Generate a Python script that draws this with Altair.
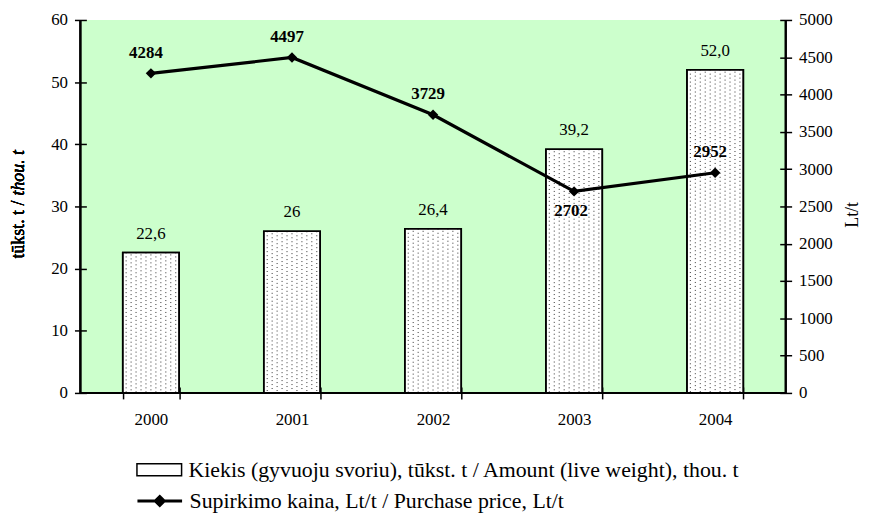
import altair as alt
import pandas as pd

years = ["2000", "2001", "2002", "2003", "2004"]
amount = [22.6, 26.0, 26.4, 39.2, 52.0]
amount_labels = ["22,6", "26", "26,4", "39,2", "52,0"]
price = [4284, 4497, 3729, 2702, 2952]
price_labels = ["4284", "4497", "3729", "2702", "2952"]

bar_name = "Kiekis (gyvuoju svoriu), tūkst. t / Amount (live weight), thou. t"
line_name = "Supirkimo kaina, Lt/t / Purchase price, Lt/t"

df = pd.DataFrame({
    "year": years,
    "amount": amount,
    "amount_label": amount_labels,
    "price": price,
    "price_label": price_labels,
    "bar_series": bar_name,
    "line_series": line_name,
})

FONT = "Liberation Serif"
W, H = 711, 376
FS = 17
LFS = 22

xscale = alt.Scale(paddingInner=0.6, paddingOuter=0.3)
x_axis = alt.Axis(title=None, labelAngle=0, domain=False, tickBand="extent",
                  tickSize=12, offset=-6, tickWidth=1.5, tickColor="black",
                  labelPadding=13, labelFont=FONT, labelFontSize=FS,
                  labelColor="black", grid=False)

yl_scale = alt.Scale(domain=[0, 60], nice=False)
yr_scale = alt.Scale(domain=[0, 5000], nice=False)

yl_axis = alt.Axis(orient="left", values=list(range(0, 61, 10)), domain=False,
                   tickSize=12, offset=-6, tickWidth=1.5, tickColor="black",
                   labelPadding=7, labelFont=FONT, labelFontSize=FS,
                   labelColor="black", grid=False, title=None)
yr_axis = alt.Axis(orient="right", values=list(range(0, 5001, 500)), domain=False,
                   format="d",
                   tickSize=12, offset=-6, tickWidth=1.5, tickColor="black",
                   labelPadding=7, labelFont=FONT, labelFontSize=FS,
                   labelColor="black", grid=False, title="Lt/t", titleAngle=270,
                   titleFont=FONT, titleFontSize=18, titleFontWeight="normal",
                   titleColor="black", titlePadding=29, titleY=196)

X = lambda: alt.X("year:N", scale=xscale, axis=x_axis)
YL = lambda: alt.Y("amount:Q", scale=yl_scale, axis=yl_axis)
YR = lambda: alt.Y("price:Q", scale=yr_scale, axis=yr_axis)

base = alt.Chart(df)

bars = base.mark_bar(fill="white", stroke="black", strokeWidth=1.6).encode(
    x=X(),
    y=YL(),
    fill=alt.Fill("bar_series:N",
                  scale=alt.Scale(domain=[bar_name], range=["white"]),
                  legend=alt.Legend(orient="none", legendX=56, legendY=430,
                                    padding=0,
                                    title=None, labelFont=FONT, labelFontSize=LFS,
                                    labelColor="black", labelLimit=0,
                                    symbolType="M-1,-0.27H1V0.27H-1Z",
                                    symbolSize=2025, symbolStrokeColor="black",
                                    symbolStrokeWidth=1.5, labelOffset=6)),
)


def dots(start, dash_offset):
    return base.transform_calculate(
        col=f"sequence({start}, 11, 2)"
    ).transform_flatten(["col"]).mark_rule(
        color="#333", strokeWidth=1, strokeDash=[1, 3],
        strokeDashOffset=dash_offset,
        xOffset=alt.expr("(datum.col - 5) * 5"),
    ).encode(
        x=X(),
        y=YL(),
        y2=alt.datum(0),
    )


dots_a = dots(0, 0)
dots_b = dots(1, 2)

bar_outline = base.mark_bar(fill="transparent", stroke="black", strokeWidth=1.6).encode(
    x=X(),
    y=YL(),
)

bar_text = base.mark_text(font=FONT, fontSize=FS, color="black",
                          baseline="middle", dy=-19).encode(
    x=X(),
    y=YL(),
    text="amount_label:N",
)

left_layer = alt.layer(bars, dots_a, dots_b, bar_outline, bar_text)

line = base.mark_line(strokeWidth=3.2).encode(
    x=X(),
    y=YR(),
    stroke=alt.Stroke("line_series:N",
                      scale=alt.Scale(domain=[line_name], range=["black"]),
                      legend=alt.Legend(orient="none", legendX=56, legendY=461,
                                        padding=0,
                                        title=None, labelFont=FONT, labelFontSize=LFS,
                                        labelColor="black", labelLimit=0,
                                        symbolType="M-1,0H1M0,-0.2L0.2,0L0,0.2L-0.2,0Z",
                                        symbolSize=2025, symbolStrokeColor="black",
                                        symbolFillColor="black",
                                        symbolStrokeWidth=3, labelOffset=6)),
)

points = base.mark_point(shape="diamond", filled=True, color="black",
                         size=110, opacity=1).encode(
    x=X(),
    y=YR(),
)

price_above = base.transform_filter(alt.datum.year != "2003").mark_text(
    font=FONT, fontSize=FS, fontWeight="bold", color="black",
    baseline="middle", dy=-21, dx=-5).encode(
    x=X(),
    y=YR(),
    text="price_label:N",
)
price_below = base.transform_filter(alt.datum.year == "2003").mark_text(
    font=FONT, fontSize=FS, fontWeight="bold", color="black",
    baseline="middle", dy=20, dx=-3).encode(
    x=X(),
    y=YR(),
    text="price_label:N",
)

right_layer = alt.layer(line, points, price_above, price_below)

# axis domain lines
frame = base.mark_rule(color="black", strokeWidth=1.6).encode(
    x=alt.value(0), x2=alt.value(0), y=alt.value(0), y2=alt.value(H))
frame_r = base.mark_rule(color="black", strokeWidth=1.6).encode(
    x=alt.value(W), x2=alt.value(W), y=alt.value(0), y2=alt.value(H))
frame_b = base.mark_rule(color="black", strokeWidth=1.6).encode(
    x=alt.value(0), x2=alt.value(W), y=alt.value(H), y2=alt.value(H))

left_title_a = base.mark_text(font=FONT, fontSize=18, color="black", angle=270,
                              align="right", baseline="middle").encode(
    x=alt.value(-62), y=alt.value(182), text=alt.value("tūkst. t /"))
left_title_b = base.mark_text(font=FONT, fontSize=18, color="black", angle=270,
                              align="left", baseline="middle", fontStyle="italic").encode(
    x=alt.value(-62), y=alt.value(177), text=alt.value("thou. t"))

chart = alt.layer(left_layer, right_layer, frame, frame_r, frame_b,
                  left_title_a, left_title_b).resolve_scale(
    y="independent", fill="independent", stroke="independent"
).properties(
    width=W, height=H,
    autosize=alt.AutoSizeParams(type="none"),
    padding={"left": 73, "top": 10, "right": 83, "bottom": 121},
    background="white",
).configure_view(fill="#CCFFCC", stroke=None)

chart.save("out.html", embed_options={"renderer": "svg", "actions": False})
